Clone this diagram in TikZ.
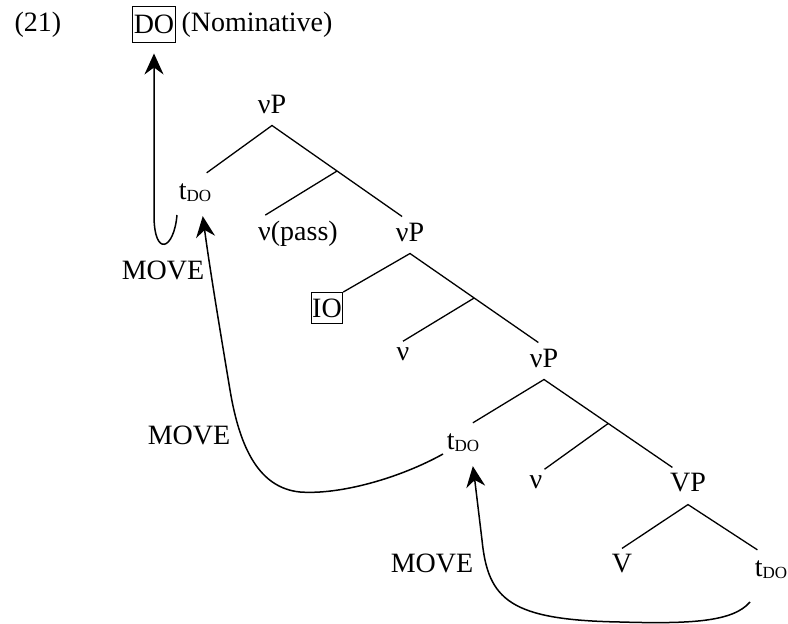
\documentclass[tikz,border=0pt]{standalone}
\usepackage{fontspec}
\setmainfont{Liberation Serif}
\usetikzlibrary{arrows.meta,calc}

\newcommand{\tdo}{t\raisebox{-2pt}{\fontsize{17}{17}\selectfont DO}}

\tikzset{
	lbl/.style={font=\fontsize{28}{30}\selectfont, inner xsep=2pt, inner ysep=6pt},
	trc/.style={lbl, inner ysep=11pt},
	plain/.style={font=\fontsize{28}{30}\selectfont, inner sep=2pt},
	boxed/.style={plain, draw, line width=0.9pt, inner xsep=1pt},
	branch/.style={line width=1.3pt},
	move/.style={-{Stealth[length=21pt,width=19pt,inset=7pt]}, line width=1.5pt},
}

\begin{document}
\begin{tikzpicture}[x=1pt,y=-1pt]
	\useasboundingbox (0,0) rectangle (788,624);

	\node[plain] (ex) at (38,25) {(21)};
	\node[boxed, minimum height=36pt] (do) at (154,24) {DO};
	\node[plain] (nom) at (257,25) {(Nominative)};

	\node[lbl] (vp1) at (272,104) {νP};
	\node[trc] (t1) at (195,193) {\tdo};
	\node[lbl] (vpass) at (298,234) {ν(pass)};
	\node[lbl] (vp2) at (410,232) {νP};
	\node[boxed, minimum height=31pt] (io) at (327,308) {IO};
	\node[lbl] (v1) at (403,354) {ν};
	\node[lbl] (vp3) at (544,358) {νP};
	\node[trc] (t2) at (463,443) {\tdo};
	\node[lbl] (v2) at (536,482) {ν};
	\node[lbl] (vp4) at (688,483) {VP};
	\node[lbl] (vv) at (622,564) {V};
	\node[trc] (t3) at (771,570) {\tdo};

	\node[plain] (mv1) at (163,270) {MOVE};
	\node[plain] (mv2) at (189,435) {MOVE};
	\node[plain] (mv3) at (432,563) {MOVE};

	% apex of each branching node
	\foreach \n in {vp1,vp2,vp3,vp4}
		\coordinate (\n-a) at ([yshift=-6pt]\n.south);

	\foreach \p/\l/\r in {vp1/t1.60/vp2.117, vp2/io.north east/vp3.110,
	                      vp3/t2.64/vp4.135, vp4/vv.north/t3.124}
	{
		\draw[branch] (\l) -- (\p-a) -- (\r);
	}
	\foreach \p/\r/\c in {vp1/vp2.117/vpass.150, vp2/vp3.110/v1.north,
	                      vp3/vp4.135/v2.north east}
	{
		\draw[branch] ($(\p-a)!0.5!(\r)$) -- (\c);
	}

	\coordinate (s1) at (177,215);
	\coordinate (s2) at (443,454);
	\coordinate (s3) at (750,602);

	\draw[move, shorten >=11pt] (s1) .. controls (174,250) and (154,258) .. (154,215) -- (do.south);
	\draw[move, shorten >=3pt] (s2) .. controls (400,478) and (340,495) .. (300,492)
		.. controls (260,488) and (240,450) .. (230,390)
		.. controls (220,330) and (210,270) .. (t1.-70);
	\draw[move, shorten >=3pt] (s3) .. controls (733,622) and (690,624) .. (620,622)
		.. controls (510,620) and (488,600) .. (482,540)
		.. controls (479,510) .. (t2.-65);
\end{tikzpicture}
\end{document}
